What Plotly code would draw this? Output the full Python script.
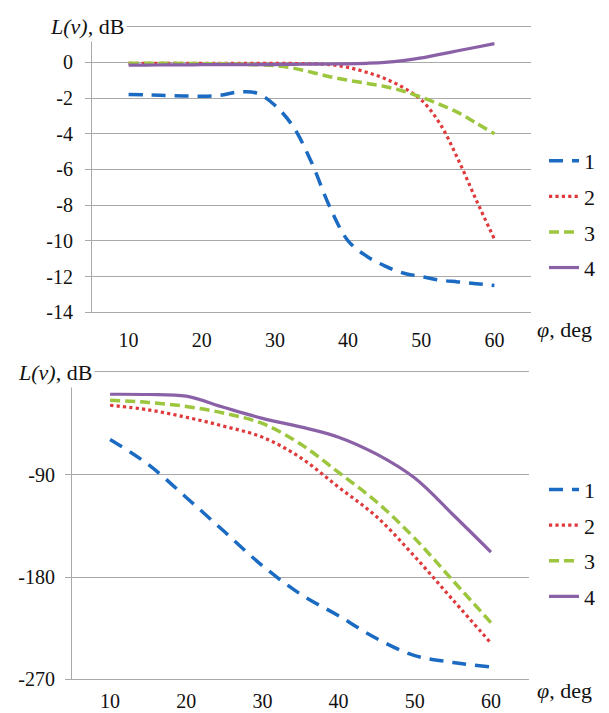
import plotly.graph_objects as go

# ---------------- data ----------------
phi_top = [10, 12.5, 15, 17.5, 20, 22.5, 25, 27.5, 30, 32.5, 35, 37.5, 40,
           42.5, 45, 47.5, 50, 52.5, 55, 57.5, 60]
top_1 = [-1.80, -1.82, -1.85, -1.88, -1.90, -1.85, -1.66, -1.72, -2.40, -3.60,
         -5.60, -8.10, -10.0, -10.85, -11.40, -11.80, -12.0, -12.2, -12.3, -12.4, -12.5]
top_2 = [-0.05, -0.05, -0.05, -0.05, -0.05, -0.05, -0.05, -0.05, -0.05, -0.06,
         -0.08, -0.12, -0.28, -0.55, -0.90, -1.40, -2.10, -3.40, -5.40, -7.70, -9.90]
top_3 = [-0.05, -0.05, -0.05, -0.06, -0.07, -0.08, -0.10, -0.13, -0.18, -0.32,
         -0.55, -0.80, -1.00, -1.17, -1.35, -1.60, -1.95, -2.35, -2.80, -3.40, -4.00]
top_4 = [-0.15, -0.15, -0.14, -0.14, -0.13, -0.13, -0.13, -0.13, -0.12, -0.11,
         -0.10, -0.09, -0.08, -0.05, 0.00, 0.10, 0.25, 0.45, 0.65, 0.85, 1.05]

phi_bot = [10, 15, 20, 25, 30, 35, 40, 45, 50, 55, 60]
bot_1 = [-59, -81, -110, -140, -170, -195, -214, -234, -249, -255, -259]
bot_2 = [-29, -33, -39.5, -47.5, -57, -75, -101, -127, -162, -200, -238]
bot_3 = [-24.5, -26.5, -30, -36, -45, -63, -88, -114, -146, -183, -220]
bot_4 = [-19.3, -19.5, -21, -31, -40.5, -48, -57, -72, -93, -125, -158]

series_names = ["1", "2", "3", "4"]
x_ticks = [10, 20, 30, 40, 50, 60]
x_bounds = [15, 25, 35, 45, 55, 65]
top_yticks = [-14, -12, -10, -8, -6, -4, -2, 0]
bot_yticks = [-270, -180, -90]

# ---------------- styles ----------------
colors = ["#1C6BC2", "#E0393B", "#9CC63E", "#8A61A6"]
dashes = ["14px,9px", "dot", "10px,5px", "solid"]
widths = [3.5, 3.2, 3.5, 3.2]
FONT = "Liberation Serif, Times New Roman, serif"
GRID = "#A9A9A9"

W, H = 609, 713
top_xdom = [84 / W, 523 / W]
top_ydom = [1 - 309 / H, 1 - 19 / H]
bot_xdom = [64 / W, 521 / W]
bot_ydom = [1 - 682 / H, 1 - 370 / H]
top_yrange = [-14, 2]
bot_yrange = [-270, 0]

fig = go.Figure()

top_data = [top_1, top_2, top_3, top_4]
bot_data = [bot_1, bot_2, bot_3, bot_4]
for i in range(4):
    fig.add_trace(go.Scatter(
        x=phi_top, y=top_data[i], name=series_names[i], mode="lines",
        line=dict(color=colors[i], dash=dashes[i], width=widths[i],
                  shape="spline", smoothing=1.0),
        xaxis="x", yaxis="y", legend="legend", legendgroup="t" + str(i)))
for i in range(4):
    fig.add_trace(go.Scatter(
        x=phi_bot, y=bot_data[i], name=series_names[i], mode="lines",
        line=dict(color=colors[i], dash=dashes[i], width=widths[i],
                  shape="spline", smoothing=1.0),
        xaxis="x2", yaxis="y2", legend="legend2", legendgroup="b" + str(i)))

tickfont = dict(family=FONT, size=20, color="#111")

def xaxis_main(dom, anchor, standoff):
    return dict(domain=dom, anchor=anchor, range=[5, 65], tickvals=x_ticks,
                ticktext=[str(v) for v in x_ticks], showgrid=False,
                zeroline=False, showline=True, linecolor=GRID, linewidth=1,
                mirror=True, ticks="", tickfont=tickfont,
                ticklabelstandoff=standoff, fixedrange=True)

def yaxis_main(dom, anchor, rng, tv, standoff):
    return dict(domain=dom, anchor=anchor, range=rng, tickvals=tv,
                ticktext=[str(v) for v in tv],
                showgrid=True, gridcolor=GRID, gridwidth=1, zeroline=False,
                showline=True, linecolor=GRID, linewidth=1, ticks="outside",
                ticklen=6, tickcolor=GRID, tickfont=tickfont,
                ticklabelstandoff=standoff)

top_cross = top_ydom[0] + (0 - top_yrange[0]) / (top_yrange[1] - top_yrange[0]) * (top_ydom[1] - top_ydom[0])

fig.update_layout(
    width=W, height=H,
    margin=dict(l=0, r=0, t=0, b=0),
    paper_bgcolor="white", plot_bgcolor="white",
    showlegend=True,
    xaxis=xaxis_main(top_xdom, "y", 10),
    yaxis=yaxis_main(top_ydom, "x", top_yrange, top_yticks, 8),
    xaxis2=xaxis_main(bot_xdom, "y2", 4),
    yaxis2=yaxis_main(bot_ydom, "x2", bot_yrange, bot_yticks, 6),
    xaxis3=dict(domain=top_xdom, anchor="free", position=top_cross,
                overlaying="x", side="top", range=[5, 65], tickvals=x_bounds,
                ticks="inside", ticklen=6, tickcolor=GRID, showticklabels=False,
                showgrid=False, zeroline=False, showline=True, linecolor=GRID),
    xaxis4=dict(domain=bot_xdom, anchor="y2", overlaying="x2", side="top",
                range=[5, 65], tickvals=x_bounds, ticks="inside", ticklen=6,
                tickcolor=GRID, showticklabels=False, showgrid=False,
                zeroline=False, showline=True, linecolor=GRID),
    legend=dict(x=536 / W, y=1 - 134 / H, xanchor="left", yanchor="top",
                font=dict(family=FONT, size=22, color="#111"),
                tracegroupgap=4, bgcolor="rgba(0,0,0,0)"),
    legend2=dict(x=536 / W, y=1 - 468 / H, xanchor="left", yanchor="top",
                 font=dict(family=FONT, size=22, color="#111"),
                 tracegroupgap=4, bgcolor="rgba(0,0,0,0)"),
)

title_font = dict(family=FONT, size=22, color="#111")
annos = [
    dict(text="<i>L(v),</i> dB", x=119 / W, y=1 - 19 / H, xanchor="right", yanchor="middle"),
    dict(text="<i>L(v),</i> dB", x=87 / W, y=1 - 370 / H, xanchor="right", yanchor="middle"),
    dict(text="<i>φ</i>, deg", x=526 / W, y=1 - 327 / H, xanchor="left", yanchor="middle"),
    dict(text="<i>φ</i>, deg", x=526 / W, y=1 - 693 / H, xanchor="left", yanchor="middle"),
]
for a in annos:
    fig.add_annotation(xref="paper", yref="paper", showarrow=False,
                       font=title_font, bgcolor="white", borderpad=2, **a)

fig.write_html("out.html")
